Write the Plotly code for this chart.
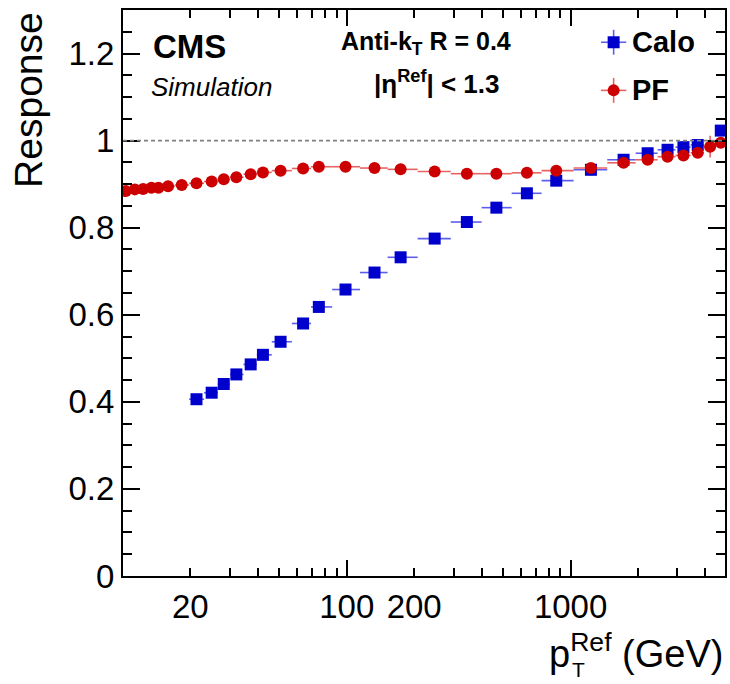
import numpy as np
import plotly.graph_objects as go

# Reference-jet pT bins (GeV) shared by both jet types
pt = [10.3, 11.3, 12.3, 13.4, 14.4, 15.9, 18.3, 21.3, 24.9, 28.2, 32.1, 37.2,
      42.2, 50.6, 63.8, 75.0, 98.7, 133, 174, 247, 344, 466, 638, 863,
      1233, 1725, 2210, 2712, 3194, 3700, 4204, 4690]

# Particle-flow jet response
pf_resp = [0.884, 0.888, 0.889, 0.892, 0.892, 0.895, 0.898, 0.902, 0.906, 0.911,
           0.916, 0.923, 0.927, 0.931, 0.936, 0.940, 0.940, 0.937, 0.934, 0.929,
           0.924, 0.924, 0.926, 0.931, 0.937, 0.949, 0.956, 0.963, 0.966, 0.972,
           0.986, 0.995]
pf_err = [0.002] * 28 + [0.004, 0.006, 0.025, 0.012]

# Calorimeter jet response (no entry where the bin is empty)
calo_resp = [None] * 7 + [0.406, 0.421, 0.441, 0.463, 0.486, 0.508, 0.538, 0.580,
                          0.618, 0.658, 0.697, 0.732, 0.775, 0.813, 0.846, 0.879,
                          0.908, 0.933, 0.956, 0.971, 0.979, 0.985, 0.990, None, 1.023]
calo_err = [0.003] * 31 + [0.010]

series_names = ["Calo", "PF"]

x_tick_vals = [20, 100, 200, 1000]
x_tick_text = ["20", "100", "200", "1000"]
x_minor_vals = [30, 40, 50, 60, 70, 80, 90, 300, 400, 500, 600, 700, 800, 900,
                2000, 3000, 4000]
x_long_ticks = [100, 1000]

# Bin edges: geometric midpoints between neighbouring bins
lp = np.log10(pt)
mids = (lp[1:] + lp[:-1]) / 2
lo_edges = np.concatenate([[lp[0] - (mids[0] - lp[0])], mids])
hi_edges = np.concatenate([mids, [lp[-1] + (lp[-1] - mids[-1])]])
err_plus = 10 ** hi_edges - np.array(pt)
err_minus = np.array(pt) - 10 ** lo_edges


def series(resp, err):
    idx = [i for i, v in enumerate(resp) if v is not None]
    return ([pt[i] for i in idx], [resp[i] for i in idx], [err[i] for i in idx],
            [err_plus[i] for i in idx], [err_minus[i] for i in idx])


FONT = "Liberation Sans, Arial, Helvetica, sans-serif"
BLUE = "#0000cc"
RED = "#cc0000"
BLUE_BAR = "rgba(40,40,230,0.75)"
RED_BAR = "rgba(225,60,60,0.8)"
styles = {
    "Calo": dict(symbol="square", color=BLUE, bar=BLUE_BAR),
    "PF": dict(symbol="circle", color=RED, bar=RED_BAR),
}

fig = go.Figure()

for name, resp, err in [("Calo", calo_resp, calo_err), ("PF", pf_resp, pf_err)]:
    sx, sy, se, sp, sm = series(resp, err)
    st = styles[name]
    fig.add_trace(go.Scatter(
        x=sx, y=sy, mode="markers", name=name, showlegend=False,
        marker=dict(symbol=st["symbol"], size=12, color=st["color"]),
        error_x=dict(type="data", symmetric=False, array=sp, arrayminus=sm,
                     color=st["bar"], thickness=1.6, width=0),
        error_y=dict(type="data", array=se, color=st["bar"], thickness=1.6,
                     width=0),
    ))

# Legend keys (marker with error cross) on a hidden unit-square overlay axis
key_x = 0.815
key_y = {"Calo": 0.943, "PF": 0.858}
for name in series_names:
    st = styles[name]
    fig.add_trace(go.Scatter(
        x=[key_x], y=[key_y[name]], xaxis="x3", yaxis="y3", mode="markers",
        showlegend=False, hoverinfo="skip", cliponaxis=False,
        marker=dict(symbol=st["symbol"], size=12, color=st["color"]),
        error_x=dict(type="constant", value=0.021, color=st["bar"],
                     thickness=1.6, width=0),
        error_y=dict(type="constant", value=0.022, color=st["bar"],
                     thickness=1.6, width=0),
    ))
    fig.add_annotation(text=f"<b>{name}</b>", xref="paper", yref="paper",
                       x=0.843, y=key_y[name], xanchor="left", yanchor="middle",
                       showarrow=False, font=dict(size=29, family=FONT))

x_range = [1.0, 3.69]

fig.update_layout(
    width=730, height=684,
    margin=dict(l=123, r=3, t=10, b=108),
    paper_bgcolor="white", plot_bgcolor="white",
    font=dict(family=FONT, color="black", size=20),
    showlegend=False,
    xaxis=dict(type="log", range=x_range, showgrid=False, zeroline=False,
               showline=True, linecolor="black", linewidth=2, mirror="ticks",
               ticks="inside", ticklen=8, tickwidth=1.5, tickcolor="black",
               tickvals=x_tick_vals, ticktext=x_tick_text,
               tickfont=dict(size=33, family=FONT),
               minor=dict(tickvals=x_minor_vals, ticks="inside", ticklen=8,
                          tickwidth=1.5, tickcolor="black")),
    xaxis2=dict(type="log", range=x_range, overlaying="x", anchor="y", side="bottom",
                showgrid=False, zeroline=False, showline=True, linecolor="black",
                linewidth=2, mirror="ticks", ticks="inside", ticklen=16,
                tickwidth=1.5, tickcolor="black", tickvals=x_long_ticks,
                showticklabels=False),
    xaxis3=dict(range=[0, 1], overlaying="x", anchor="y3", visible=False),
    yaxis3=dict(range=[0, 1], overlaying="y", anchor="x3", visible=False),
    yaxis=dict(range=[0, 1.3], showgrid=False, zeroline=False,
               showline=True, linecolor="black", linewidth=2, mirror="ticks",
               ticks="inside", ticklen=17, tickwidth=1.5, tickcolor="black",
               tickvals=[0, 0.2, 0.4, 0.6, 0.8, 1.0, 1.2],
               ticktext=["0", "0.2", "0.4", "0.6", "0.8", "1", "1.2"],
               tickfont=dict(size=33, family=FONT),
               minor=dict(dtick=0.05, ticks="inside", ticklen=9, tickwidth=1.5,
                          tickcolor="black")),
)

# Invisible trace so the long-tick overlay axis is drawn
fig.add_trace(go.Scatter(x=[pt[0]], y=[None], xaxis="x2", showlegend=False,
                         hoverinfo="skip"))

# Unit-response reference line
fig.add_shape(type="line", xref="paper", yref="y", x0=0, x1=1, y0=1, y1=1,
              line=dict(color="#808080", width=1.6, dash="4px,3px"))

ann = [
    dict(text="<b>CMS</b>", x=0.046, y=0.935, xanchor="left", yanchor="middle",
         font=dict(size=33)),
    dict(text="<i>Simulation</i>", x=0.043, y=0.864, xanchor="left",
         yanchor="middle", font=dict(size=26)),
    dict(text="<b>Anti-k<sub>T</sub> R = 0.4</b>", x=0.503, y=0.942,
         xanchor="center", yanchor="middle", font=dict(size=25)),
    dict(text="<b>|η<sup>Ref</sup>| < 1.3</b>", x=0.522, y=0.872,
         xanchor="center", yanchor="middle", font=dict(size=26)),
    dict(text="Response", x=-0.158, y=1.0, xanchor="center", yanchor="top",
         textangle=-90, font=dict(size=39)),
    dict(text="p<sup>Ref</sup> (GeV)", x=1.0, y=-0.132, xanchor="right",
         yanchor="middle", font=dict(size=38)),
    dict(text="T", x=0.756, y=-0.166, xanchor="center", yanchor="middle",
         font=dict(size=21)),
]
for a in ann:
    a.setdefault("xref", "paper")
    a.setdefault("yref", "paper")
    a["showarrow"] = False
    fig.add_annotation(**a)

fig.write_html("out.html")
